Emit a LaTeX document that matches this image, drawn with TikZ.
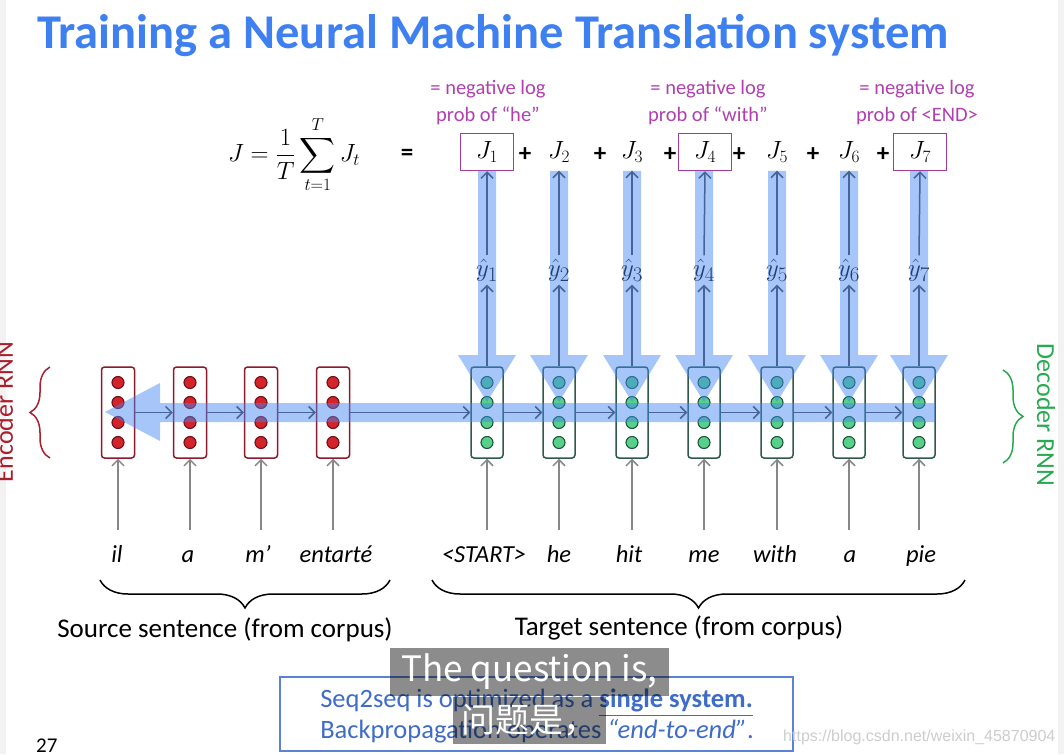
\documentclass[tikz,border=0pt]{standalone}
\usepackage{amsmath}
\usepackage{fontspec}
\setmainfont{Carlito}
\newfontfamily\subfont{Noto Sans CJK SC}
\newfontfamily\wmfont{Liberation Sans}
\usetikzlibrary{arrows.meta,decorations.pathreplacing,calc}
\definecolor{titleblue}{RGB}{62,128,240}
\definecolor{purp}{RGB}{176,64,176}
\definecolor{purpbox}{RGB}{160,60,160}
\definecolor{encbox}{RGB}{140,26,43}
\definecolor{encred}{RGB}{210,36,42}
\definecolor{encdark}{RGB}{110,16,24}
\definecolor{decbox}{RGB}{47,90,75}
\definecolor{decgreen}{RGB}{88,208,140}
\definecolor{decdark}{RGB}{30,85,58}
\definecolor{bandc}{RGB}{66,133,244}
\definecolor{flowc}{RGB}{72,100,150}
\definecolor{grayc}{RGB}{135,135,135}
\definecolor{bracered}{RGB}{170,30,45}
\definecolor{bracegreen}{RGB}{40,170,80}
\definecolor{boxblue}{RGB}{90,130,215}
\definecolor{textblue}{RGB}{62,108,200}
\definecolor{wmgray}{RGB}{205,205,205}
\definecolor{edge}{RGB}{242,242,242}
\begin{document}
\begin{tikzpicture}[x=1pt,y=-1pt,
  enccell/.style={draw=encbox, line width=1.5pt, rounded corners=3pt, fill=white, minimum width=33pt, minimum height=91pt, inner sep=0pt},
  deccell/.style={draw=decbox, line width=1.5pt, rounded corners=3pt, fill=white, minimum width=32pt, minimum height=91pt, inner sep=0pt},
  encdot/.style={fill=encred, draw=encdark, line width=1.1pt},
  decdot/.style={fill=decgreen, draw=decdark, line width=1.1pt},
  flow/.style={draw=flowc, line width=1.5pt, -{Straight Barb[length=6pt,width=12pt,line width=1.5pt]}},
  inarrow/.style={draw=grayc, line width=1.5pt, -{Straight Barb[length=6pt,width=12pt,line width=1.5pt]}},
  band/.style={fill=bandc, fill opacity=0.47},
  jlab/.style={minimum width=53pt, minimum height=37pt, inner sep=0pt, font=\fontsize{27}{32}\selectfont},
  jbox/.style={jlab, draw=purpbox, line width=1.5pt},
  plus/.style={font=\fontsize{25}{28}\selectfont\bfseries, inner sep=0pt},
  note/.style={align=center, text=purp, font=\fontsize{20.5}{27}\selectfont, inner sep=0pt},
  yhat/.style={font=\fontsize{28}{32}\selectfont, inner sep=2pt, text height=19pt, text depth=6pt},
  word/.style={font=\fontsize{24.5}{28}\selectfont\itshape, inner sep=0pt, text height=17pt, text depth=5pt, anchor=base},
  brc/.style={decorate, decoration={brace, amplitude=28pt, aspect=0.5}, line width=1.5pt},
  sidebrc/.style={decorate, decoration={brace, amplitude=20pt}, line width=1.5pt},
  lab/.style={font=\fontsize{27}{30}\selectfont, inner sep=0pt},
  subbox/.style={fill=black, fill opacity=0.45, text opacity=1, text=white, inner sep=0pt}
]
\useasboundingbox (0,0) rectangle (1064,754);
\fill[white] (0,0) rectangle (1064,754);
\fill[edge] (0,0) rectangle (6,754);
\fill[edge] (1058,0) rectangle (1064,754);

% title
\node[anchor=base west, text=titleblue, inner sep=0pt, font=\fontsize{48.5}{56}\selectfont\bfseries] (title) at (37,49) {Training a Neural Machine Translation system};

% formula
\node[font=\fontsize{25}{30}\selectfont, inner sep=0pt] (formula) at (294,155) {$\displaystyle J=\frac{1}{T}\sum_{t=1}^{T}J_t$};
\node[plus] (eq) at (407,155) {=};

% J terms
\node[jbox] (J1) at (487,152) {$J_1$};
\node[jlab] (J2) at (559,152) {$J_2$};
\node[jlab] (J3) at (632,152) {$J_3$};
\node[jbox] (J4) at (705,152) {$J_4$};
\node[jlab] (J5) at (777,152) {$J_5$};
\node[jlab] (J6) at (849,152) {$J_6$};
\node[jbox] (J7) at (920,152) {$J_7$};
\node[plus] (p1) at (525,155) {+};
\node[plus] (p2) at (600,155) {+};
\node[plus] (p3) at (670,155) {+};
\node[plus] (p4) at (739,155) {+};
\node[plus] (p5) at (813,155) {+};
\node[plus] (p6) at (883,155) {+};

% notes
\node[note] (n1) at (488,103) {= negative log\\prob of “he”};
\node[note] (n2) at (708,103) {= negative log\\prob of “with”};
\node[note] (n3) at (917,103) {= negative log\\prob of <END>};

% encoder cells
\foreach \i/\x in {1/118,2/190,3/261,4/333}{
  \node[enccell] (e\i) at (\x,412.5) {};
  \foreach \dy in {-30,-10,10,30}{\draw[encdot] ($(e\i)+(0,\dy)$) circle (6pt);}
}
% decoder cells
\foreach \i/\x in {1/487,2/559,3/632,4/704,5/777,6/849,7/919}{
  \node[deccell] (d\i) at (\x,412.5) {};
  \foreach \dy in {-30,-10,10,30}{\draw[decdot] ($(d\i)+(0,\dy)$) circle (6pt);}
  \node[yhat] (y\i) at (\x,270) {$\hat{y}_{\i}$};
}

% backprop bands
\fill[band] (935,403) -- (160,403) -- (160,383) -- (105,412) -- (160,441) -- (160,422) -- (935,422) -- cycle;
\foreach \x in {487,559,632,704,777,849,919}{
  \fill[band] (\x-9,171) -- (\x+9,171) -- (\x+9,355) -- (\x+29,355) -- (\x,402) -- (\x-29,355) -- (\x-9,355) -- cycle;
}

% recurrent arrows
\draw[flow] (e1.east) -- (e2.west);
\draw[flow] (e2.east) -- (e3.west);
\draw[flow] (e3.east) -- (e4.west);
\draw[flow] (e4.east) -- (d1.west);
\foreach \i/\j in {1/2,2/3,3/4,4/5,5/6,6/7}{\draw[flow] (d\i.east) -- (d\j.west);}
% output arrows
\foreach \i in {1,...,7}{
  \draw[flow] (d\i.north) -- (y\i.south);
  \draw[flow] (y\i.north) -- (J\i.south);
}

% words
\node[word] (w1) at (117,562) {il};
\node[word] (w2) at (188,562) {a};
\node[word] (w3) at (258,562) {m’};
\node[word] (w4) at (336,562) {entarté};
\node[word] (t1) at (484,562) {<START>};
\node[word] (t2) at (559,562) {he};
\node[word] (t3) at (629,562) {hit};
\node[word] (t4) at (704,562) {me};
\node[word] (t5) at (775,562) {with};
\node[word] (t6) at (850,562) {a};
\node[word] (t7) at (921,562) {pie};
\foreach \i in {1,...,4}{\draw[inarrow, shorten <=15pt] (w\i.north -| e\i) -- (e\i.south);}
\foreach \i in {1,...,7}{\draw[inarrow, shorten <=15pt] (t\i.north -| d\i) -- (d\i.south);}

% braces
\coordinate (sbR) at (390,580);
\coordinate (sbL) at (100,580);
\coordinate (tbR) at (965,580);
\coordinate (tbL) at (432,580);
\draw[brc] (sbR) -- (sbL);
\draw[brc] (tbR) -- (tbL);
\node[lab] (src) at (225,630) {Source sentence (from corpus)};
\node[lab] (tgt) at (679,628) {Target sentence (from corpus)};

\coordinate (ebB) at (50,458);
\coordinate (ebT) at (50,367);
\draw[sidebrc, draw=bracered] (ebB) -- (ebT);
\coordinate (dbT) at (1003,370);
\coordinate (dbB) at (1003,463);
\draw[sidebrc, draw=bracegreen] (dbT) -- (dbB);
\node[rotate=90, text=bracered, font=\fontsize{26}{30}\selectfont, inner sep=0pt] (encl) at (4,412) {Encoder RNN};
\node[rotate=-90, text=bracegreen, font=\fontsize{26}{30}\selectfont, inner sep=0pt] (decl) at (1046,415) {Decoder RNN};

% bottom box
\node[draw=boxblue, line width=1.5pt, minimum width=513pt, minimum height=74pt, inner sep=0pt] (sbox) at (536.5,714) {};
\node[align=left, text=textblue, font=\fontsize{26.5}{31}\selectfont, inner sep=0pt] (stext) at (537,716) {Seq2seq is optimized as a \underline{\textbf{single system.}}\\Backpropagation operates \textit{“end-to-end”}.};

% subtitles
\node[subbox, minimum width=279pt, minimum height=48pt, font=\subfont\fontsize{35}{38}\selectfont] (sub1) at (529.5,672) {The question is,};
\node[subbox, minimum width=153pt, minimum height=47pt, font=\subfont\fontsize{34}{38}\selectfont] (sub2) at (529.5,720) {问题是，};

% page number and watermark
\node[anchor=base west, font=\fontsize{21}{24}\selectfont, inner sep=0pt] (pg) at (36,752) {27};
\node[anchor=base west, text=wmgray, font=\wmfont\fontsize{16}{18}\selectfont, inner sep=0pt] (wm) at (783,741) {https://blog.csdn.net/weixin\_45870904};
\end{tikzpicture}
\end{document}
